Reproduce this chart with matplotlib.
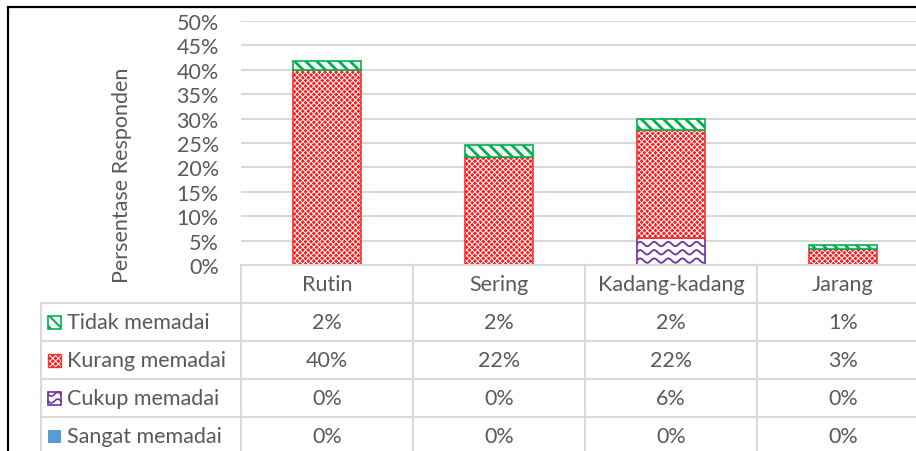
import numpy as np
import matplotlib
matplotlib.use('Agg')
import matplotlib.pyplot as plt
from matplotlib.patches import Rectangle

# data
categories = ['Rutin', 'Sering', 'Kadang-kadang', 'Jarang']
series = ['Tidak memadai', 'Kurang memadai', 'Cukup memadai', 'Sangat memadai']
sangat = [0.0, 0.0, 0.0, 0.0]
cukup = [0.0, 0.0, 5.6, 0.0]
kurang = [40.0, 22.1, 22.1, 3.3]
tidak = [1.8, 2.5, 2.2, 0.8]
yticks = list(range(0, 51, 5))

W, H = 916, 452
plt.rcParams['font.family'] = ['Lato', 'DejaVu Sans']
txt = '#595959'
grid = '#d9d9d9'
fs = 15.5
red_hatch = dict(facecolor='#ff1a1a', edgecolor='white', hatch='xxxxxx', lw=0)

fig = plt.figure(figsize=(W / 100, H / 100), dpi=100)

def box(x0, y0, x1, y1):
    # pixel box -> figure fraction
    return [x0 / W, 1 - y1 / H, (x1 - x0) / W, (y1 - y0) / H]

ax = fig.add_axes(box(241, 22, 929, 266))
x = np.arange(len(categories))
bw = 0.4

# stacked bars, bottom to top
b1 = np.array(sangat)
b2 = b1 + cukup
b3 = b2 + kurang
ax.bar(x, sangat, bw, color='#5b9bd5')
cb = ax.bar(x, cukup, bw, bottom=b1, facecolor='white', edgecolor='#7030a0', lw=1.2)
with plt.rc_context({'hatch.linewidth': 0.7}):
    ax.bar(x, kurang, bw, bottom=b2, **red_hatch)
ax.bar(x, kurang, bw, bottom=b2, facecolor='none', edgecolor='#ff3030', lw=1.2)
with plt.rc_context({'hatch.linewidth': 2.0}):
    ax.bar(x, tidak, bw, bottom=b3, facecolor='white', edgecolor='#00b050', hatch='\\\\\\', lw=1.2)

# wavy pattern for "Cukup memadai"
for r in cb.patches:
    if r.get_height() <= 0:
        continue
    xs = np.linspace(r.get_x(), r.get_x() + r.get_width(), 200)
    yy = r.get_y() + 0.9
    while yy < r.get_y() + r.get_height():
        ln, = ax.plot(xs, yy + 0.45 * np.sin((xs - r.get_x()) / 0.082 * 2 * np.pi),
                      color='#7030a0', lw=1.3)
        ln.set_clip_path(r)
        yy += 1.7

ax.set_xlim(-0.5, 3.5)
ax.set_ylim(0, 50)
ax.set_yticks(yticks)
ax.set_yticklabels([f'{t}%' for t in yticks], color=txt, fontsize=fs)
ax.set_xticks([])
ax.tick_params(axis='y', length=0, pad=16)
ax.grid(axis='y', color=grid, lw=1.5)
ax.set_axisbelow(True)
for s in ax.spines.values():
    s.set_visible(False)
fig.text(122 / W, 1 - 175 / H, 'Persentase Responden', rotation=90,
         ha='center', va='center', color=txt, fontsize=fs)

# data table under the plot
tab = fig.add_axes(box(241, 266, 929, 456))
tab.set_xlim(-0.5, 3.5)
tab.set_ylim(5, 0)
tab.axis('off')
lx = -0.5 - 200 / 172
kw = dict(color=grid, lw=1.5, clip_on=False)
tab.plot([-0.5, 3.6], [0, 0], **kw)
for r in range(1, 5):
    tab.plot([lx, 3.6], [r, r], **kw)
tab.plot([lx, lx], [1, 5], **kw)
for c in np.arange(-0.5, 3.0, 1.0):
    tab.plot([c, c], [0, 5], **kw)

for i, c in enumerate(categories):
    tab.text(i, 0.5, c, ha='center', va='center', color=txt, fontsize=fs)

rows = [tidak, kurang, cukup, sangat]
for r, vals in enumerate(rows, start=1):
    for i, v in enumerate(vals):
        tab.text(i, r + 0.5, f'{v:.0f}%', ha='center', va='center', color=txt, fontsize=fs)
    tab.text(lx + 26 / 172, r + 0.5, series[r - 1], ha='left', va='center',
             color=txt, fontsize=fs, clip_on=False)

# legend keys
kx, kw_, kh = lx + 7 / 172, 13 / 172, 13 / 38
def key(r, **style):
    p = Rectangle((kx, r + 0.5 - kh / 2), kw_, kh, clip_on=False, **style)
    tab.add_patch(p)
    return p
with plt.rc_context({'hatch.linewidth': 1.5}):
    key(1, facecolor='white', edgecolor='#00b050', hatch='\\\\\\', lw=1.2)
with plt.rc_context({'hatch.linewidth': 0.7}):
    key(2, **red_hatch)
key(2, facecolor='none', edgecolor='#ff3030', lw=1.0)
ck = key(3, facecolor='white', edgecolor='#7030a0', lw=1.2)
xs = np.linspace(kx, kx + kw_, 40)
for dy in (-0.1, 0.08):
    ln, = tab.plot(xs, 3.5 + dy + 0.05 * np.sin((xs - kx) / kw_ * 2 * np.pi),
                   color='#7030a0', lw=1.2, clip_on=False)
key(4, facecolor='#5b9bd5', edgecolor='none')

# outer chart border (only left/top visible in the crop)
fig.patches.append(Rectangle((8 / W, -0.1), 1.2, 1 - 8 / H + 0.1, transform=fig.transFigure,
                             facecolor='none', edgecolor='black', lw=1.6))

fig.savefig('out.png', dpi=100)
